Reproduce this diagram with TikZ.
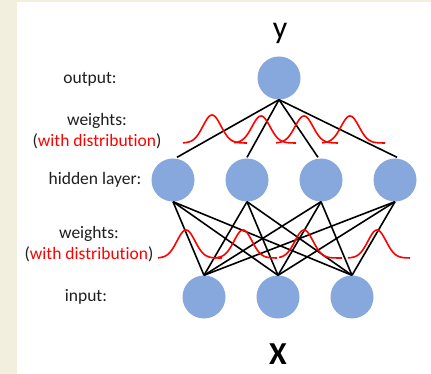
\documentclass[tikz,border=0pt]{standalone}
\usepackage{fontspec}
\setmainfont{Carlito}[Ligatures={NoCommon,NoRare,NoContextual}]
\definecolor{bgbeige}{HTML}{F3EFDF}
\definecolor{nodeblue}{HTML}{86A8DC}
\definecolor{wred}{HTML}{FF0000}
\begin{document}
\begin{tikzpicture}[x=1pt,y=-1pt,
  neuron/.style={circle,fill=nodeblue,minimum size=43pt,inner sep=0pt},
  lbl/.style={font=\fontsize{17.5}{21}\selectfont,text=black!88,align=center,inner sep=0pt},
  conn/.style={black,line width=1.6pt},
  gauss/.style={wred,line width=1.6pt,smooth,samples=60}
]
\fill[bgbeige] (0,0) rectangle (431,374);
\fill[white] (17,2) rectangle (431,374);
\useasboundingbox (0,0) rectangle (431,374);

% nodes
\node[neuron] (o) at (279,78) {};
\node[neuron] (h1) at (173,180) {};
\node[neuron] (h2) at (247,180) {};
\node[neuron] (h3) at (321,180) {};
\node[neuron] (h4) at (395,180) {};
\node[neuron] (i1) at (204,297) {};
\node[neuron] (i2) at (278,297) {};
\node[neuron] (i3) at (352,297) {};

\node[font=\fontsize{32}{34}\selectfont,inner sep=0pt] (ylab) at (280,33) {y};
\node[font=\fontsize{32}{34}\selectfont\bfseries,inner sep=0pt] (xlab) at (278,354) {X};

% labels
\node[lbl] (lout) at (90,79) {output:};
\node[lbl] (lw1) at (97,131) {weights:\\(\textcolor{wred}{with distribution})};
\node[lbl] (lhid) at (95,180) {hidden layer:};
\node[lbl] (lw2) at (89,244) {weights:\\(\textcolor{wred}{with distribution})};
\node[lbl] (lin) at (86,297) {input:};

% output-hidden connections
\coordinate (ob) at (o.south);
\draw[conn] (ob) -- ([xshift=4pt,yshift=1pt]h1.north);
\draw[conn] (ob) -- ([yshift=1pt]h2.north);
\draw[conn] (ob) -- ([xshift=-3pt,yshift=1pt]h3.north);
\draw[conn] (ob) -- ([xshift=2pt,yshift=1pt]h4.north);

% hidden-input connections
\foreach \h in {h1,h2,h3,h4}{
  \foreach \i in {i1,i2,i3}{
    \draw[conn] (\h.south) -- (\i.north);
  }
}

% gaussians upper row
\draw[gauss,domain=183:247] plot (\x,{143-28*exp(-((\x-212)/9)^2/2)});
\draw[gauss,domain=234:296] plot (\x,{143-27*exp(-((\x-261)/9)^2/2)});
\draw[gauss,domain=276:338] plot (\x,{143-27*exp(-((\x-304)/9)^2/2)});
\draw[gauss,domain=322:385] plot (\x,{143-27*exp(-((\x-350)/9)^2/2)});

% gaussians lower row
\draw[gauss,domain=158:222] plot (\x,{258-28*exp(-((\x-186)/9)^2/2)});
\draw[gauss,domain=214:277] plot (\x,{258-28*exp(-((\x-243)/9)^2/2)});
\draw[gauss,domain=279:342] plot (\x,{258-28*exp(-((\x-304)/9)^2/2)});
\draw[gauss,domain=348:410] plot (\x,{258-28*exp(-((\x-377)/9)^2/2)});
\end{tikzpicture}
\end{document}
